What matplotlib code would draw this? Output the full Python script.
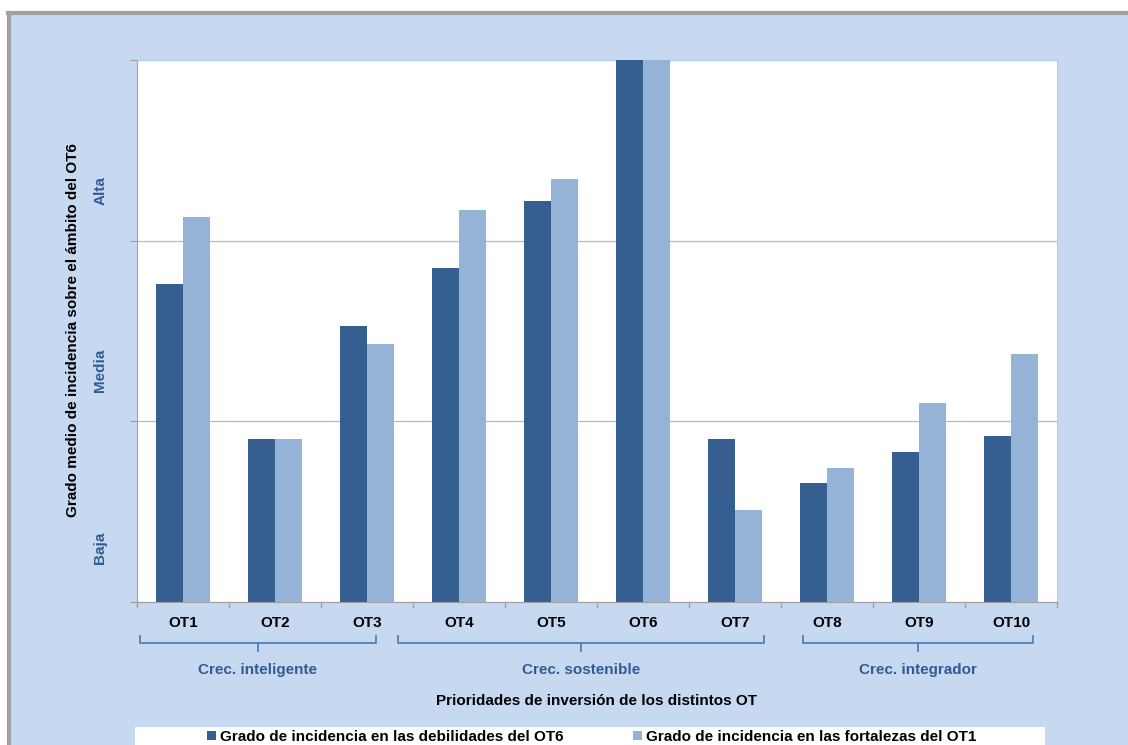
import matplotlib.pyplot as plt
from matplotlib.patches import Rectangle
from matplotlib.lines import Line2D

plt.rcParams['font.family'] = ['Liberation Sans', 'DejaVu Sans']

categories = ["OT1", "OT2", "OT3", "OT4", "OT5", "OT6", "OT7", "OT8", "OT9", "OT10"]
debilidades_ot6 = [1.76, 0.90, 1.53, 1.85, 2.22, 3.00, 0.90, 0.66, 0.83, 0.92]
fortalezas_ot1 = [2.13, 0.90, 1.43, 2.17, 2.34, 3.00, 0.51, 0.74, 1.10, 1.37]
group_names = ["Crec. inteligente", "Crec. sostenible", "Crec. integrador"]
levels = ["Baja", "Media", "Alta"]

# layout (brace spans in category units, level label heights)
brace_spans = [(-0.47, 2.10), (2.34, 6.32), (6.74, 9.24)]
level_pos = [0.3, 1.28, 2.28]

dark = "#365F91"
light = "#95B3D7"
bg = "#C6D9F1"
txt_blue = "#2F5D93"
fs = 11

W, H = 1128, 745
fig = plt.figure(figsize=(W / 100, H / 100), dpi=100, facecolor="white")
fig.patches.append(Rectangle((10 / W, 0), 1, 1 - 14 / H, transform=fig.transFigure,
                             facecolor=bg, edgecolor="none", zorder=-10))
fig.lines.append(Line2D([8 / W, 1], [1 - 13 / H] * 2, transform=fig.transFigure, color="#A0A0A0", lw=3, zorder=-5))
fig.lines.append(Line2D([9 / W] * 2, [0, 1 - 13 / H], transform=fig.transFigure, color="#A0A0A0", lw=3, zorder=-5))
# legend background strip
fig.patches.append(Rectangle((135 / W, 0), 910 / W, 18 / H, transform=fig.transFigure,
                             facecolor="white", edgecolor="none", zorder=-4))

ax = fig.add_axes([137 / W, 1 - 602 / H, 920 / W, 542 / H])
ax.set_facecolor("white")

x = list(range(len(categories)))
w = 0.29
ax.bar([i - w / 2 for i in x], debilidades_ot6, w, color=dark, label="Grado de incidencia en las debilidades del OT6", zorder=3)
ax.bar([i + w / 2 for i in x], fortalezas_ot1, w, color=light, label="Grado de incidencia en las fortalezas del OT1", zorder=3)

ax.set_xlim(-0.5, len(categories) - 0.5)
ax.set_ylim(0, 3)
ax.set_yticks([0, 1, 2, 3])
ax.set_yticklabels([])
ax.yaxis.grid(True, color="#A9BCD6", lw=0.9, zorder=0)
ax.tick_params(axis="y", length=5, color="#A0A0A0", direction="out")

ax.set_xticks(x)
ax.set_xticklabels(categories, fontweight="bold", fontsize=fs)
ax.tick_params(axis="x", length=0, pad=10)
for b in [i + 0.5 for i in range(-1, len(categories))]:
    ax.plot([b, b], [0, -0.025], color="#A0A0A0", lw=1, clip_on=False)

for s in ["top", "right"]:
    ax.spines[s].set_color("#B4CBE8")
ax.spines["left"].set_color("#A0A0A0")
ax.spines["bottom"].set_color("#A0A0A0")

# group braces
ytop, ymid = -0.188, -0.227
for name, (x0, x1) in zip(group_names, brace_spans):
    ax.plot([x0, x0, x1, x1], [ytop, ymid, ymid, ytop], color="#4F81BD", lw=1.3, clip_on=False)
    xc = (x0 + x1) / 2
    ax.plot([xc, xc], [ymid, ymid - 0.045], color="#4F81BD", lw=1.3, clip_on=False)
    ax.text(xc, -0.378, name, ha="center", va="center", color=txt_blue, fontweight="bold", fontsize=fs)

ax.text(0.5, -0.182, "Prioridades de inversión de los distintos OT", transform=ax.transAxes,
        ha="center", va="center", fontweight="bold", fontsize=fs)

fig.text(73 / W, 1 - 330 / H, "Grado medio de incidencia sobre el ámbito del OT6", rotation=90,
         ha="center", va="center", fontweight="bold", fontsize=fs)
for lab, v in zip(levels, level_pos):
    ax.text(-0.04, v, lab, transform=ax.get_yaxis_transform(), rotation=90, ha="center", va="center",
            color=txt_blue, fontweight="bold", fontsize=fs)

leg = fig.legend(loc="center", bbox_to_anchor=(592 / W, 1 - 737 / H), ncol=2, frameon=False,
                 prop={"weight": "bold", "size": fs}, handlelength=0.55, handleheight=0.55,
                 handletextpad=0.3, columnspacing=4.55, borderpad=0.25)

fig.savefig("out.png", dpi=100, facecolor=fig.get_facecolor())
